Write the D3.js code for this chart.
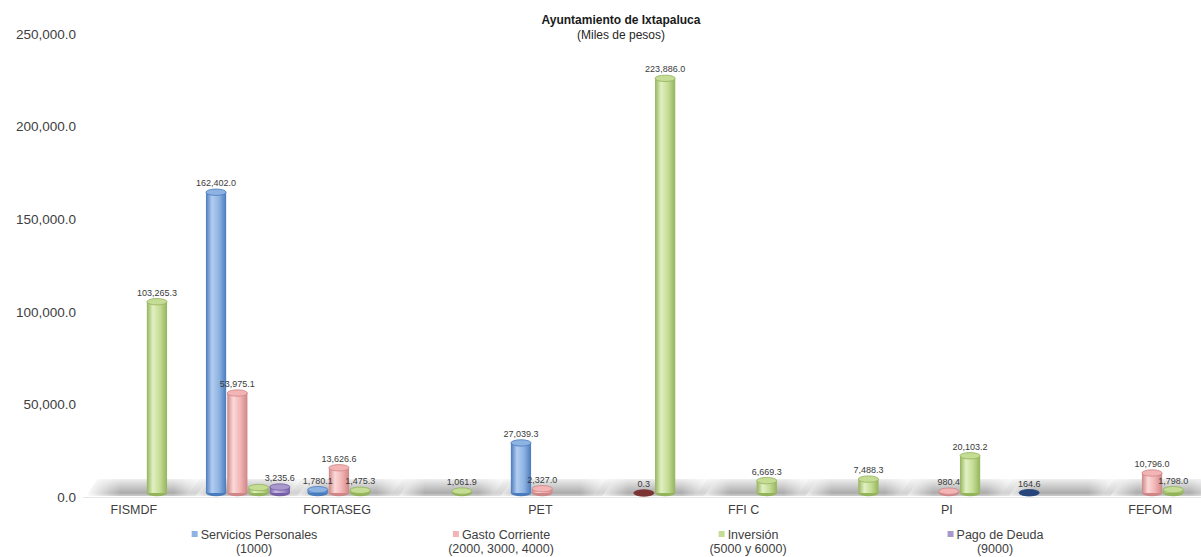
<!DOCTYPE html>
<html>
<head>
<meta charset="utf-8">
<script src="https://cdn.jsdelivr.net/npm/d3@7"></script>
<style>
  body { margin: 0; background: #fff; }
  svg { display: block; font-family: "Liberation Sans", Arial, sans-serif; }
</style>
</head>
<body>
<script>
// categorias (solo algunas llevan etiqueta en el eje)
var categories = ["c1", "c2", "c3", "c4", "c5", "c6", "c7", "c8", "c9", "c10", "c11"];
var tickLabels = ["FISMDF", "", "FORTASEG", "", "PET", "", "FFI C", "", "PI", "", "FEFOM"];

var seriesNames = ["Servicios Personales", "Gasto Corriente", "Inversión", "Pago de Deuda"];
var seriesSub = ["(1000)", "(2000, 3000, 4000)", "(5000 y 6000)", "(9000)"];

var servicios = [null, 162402.0, 1780.1, null, 27039.3, null, null, null, null, 164.6, null];
var gasto     = [null, 53975.1, 13626.6, null, 2327.0, 0.3, null, null, 980.4, null, 10796.0];
var inversion = [103265.3, 2950.0, 1475.3, 1061.9, null, 223886.0, 6669.3, 7488.3, 20103.2, null, 1798.0];
var pagoDeuda = [null, 3235.6, null, null, null, null, null, null, null, null, null];
// etiquetas que no se ven en el original (tapadas)
var hiddenLabels = [[1, 2]];

var yTicks = [0, 50000, 100000, 150000, 200000, 250000];

var W = 1201, H = 557;
var svg = d3.select("body").append("svg").attr("width", W).attr("height", H);
var defs = svg.append("defs");

var colors = [
  {dark: "#4a7bbd", light: "#b3cdf0", mid: "#8db3e2", deep: "#27457a"},
  {dark: "#cf8686", light: "#fbd9d9", mid: "#f2b4b4", deep: "#7a3434"},
  {dark: "#94b45c", light: "#e2f0c2", mid: "#c4dc94", deep: "#5a7030"},
  {dark: "#7560a6", light: "#cbbde6", mid: "#a898cc", deep: "#4a3a78"}
];

colors.forEach(function(c, i) {
  var g = defs.append("linearGradient").attr("id", "cyl" + i)
    .attr("x1", "0").attr("x2", "1").attr("y1", "0").attr("y2", "0");
  g.append("stop").attr("offset", "0").attr("stop-color", c.dark);
  g.append("stop").attr("offset", "0.3").attr("stop-color", c.light);
  g.append("stop").attr("offset", "0.65").attr("stop-color", c.mid);
  g.append("stop").attr("offset", "1").attr("stop-color", c.dark);
});

// gradiente del piso
var fg = defs.append("linearGradient").attr("id", "floorH")
  .attr("x1", "0").attr("x2", "1").attr("y1", "0").attr("y2", "0");
fg.append("stop").attr("offset", "0").attr("stop-color", "#808080").attr("stop-opacity", 0);
fg.append("stop").attr("offset", "0.28").attr("stop-color", "#808080").attr("stop-opacity", 0.65);
fg.append("stop").attr("offset", "0.72").attr("stop-color", "#808080").attr("stop-opacity", 0.65);
fg.append("stop").attr("offset", "1").attr("stop-color", "#808080").attr("stop-opacity", 0);
var fv = defs.append("linearGradient").attr("id", "floorV")
  .attr("x1", "0").attr("x2", "0").attr("y1", "0").attr("y2", "1");
fv.append("stop").attr("offset", "0").attr("stop-color", "#fff").attr("stop-opacity", 0.15);
fv.append("stop").attr("offset", "0.75").attr("stop-color", "#fff").attr("stop-opacity", 1);
fv.append("stop").attr("offset", "1").attr("stop-color", "#fff").attr("stop-opacity", 0.35);
defs.append("mask").attr("id", "floorMask").attr("maskUnits", "userSpaceOnUse")
  .attr("x", 0).attr("y", 476).attr("width", W).attr("height", 24)
  .append("rect").attr("x", 0).attr("y", 478).attr("width", W).attr("height", 20)
  .attr("fill", "url(#floorV)");

var x0 = d3.scaleBand().domain(categories).range([83, 1201]);
var x1 = d3.scaleBand().domain(seriesNames).range([-29.5, 54.5]).paddingInner(0.05);
var y = d3.scaleLinear().domain([0, 250000]).range([493, 30]);

var values = [servicios, gasto, inversion, pagoDeuda];

// titulo
svg.append("text").attr("x", 621).attr("y", 24).attr("text-anchor", "middle")
  .attr("font-size", 12).attr("font-weight", "bold").attr("fill", "#1a1a1a")
  .text("Ayuntamiento de Ixtapaluca");
svg.append("text").attr("x", 621).attr("y", 39).attr("text-anchor", "middle")
  .attr("font-size", 12).attr("fill", "#262626")
  .text("(Miles de pesos)");

// eje Y
var yAxis = svg.append("g").attr("transform", "translate(78,4)")
  .call(d3.axisLeft(y).tickValues(yTicks).tickSize(0).tickPadding(2)
    .tickFormat(d3.format(",.1f")));
yAxis.select(".domain").remove();
yAxis.selectAll("text").attr("font-size", 13.5).attr("fill", "#404040")
  .attr("font-family", "Liberation Sans, Arial, sans-serif");

// piso
svg.append("line").attr("x1", 83).attr("x2", W).attr("y1", 497.5).attr("y2", 497.5)
  .attr("stroke", "#e6e6e6").attr("stroke-width", 1);
var floor = svg.append("g").attr("mask", "url(#floorMask)");
floor.selectAll("polygon").data(categories).enter().append("polygon")
  .attr("points", function(d) {
    var c = x0(d) + x0.bandwidth() / 2;
    return [[c - 36, 479], [c + 74, 479], [c + 62, 496], [c - 48, 496]].join(" ");
  })
  .attr("fill", "url(#floorH)");

// barras cilindricas
var bars = [];
categories.forEach(function(cat, i) {
  seriesNames.forEach(function(s, k) {
    var v = values[k][i];
    if (v == null) return;
    bars.push({cat: cat, i: i, k: k, series: s, value: v});
  });
});

var rx = x1.bandwidth() / 2, ry = 3.2;
var bar = svg.selectAll(".bar").data(bars).enter().append("g").attr("class", "bar");

bar.each(function(d) {
  var g = d3.select(this);
  var cx = x0(d.cat) + x0.bandwidth() / 2 + x1(d.series) + rx;
  var yb = y(0), yt = y(d.value);
  var c = colors[d.k];
  g.append("ellipse").attr("cx", cx).attr("cy", yb).attr("rx", rx).attr("ry", ry)
    .attr("fill", c.dark);
  g.append("rect").attr("x", cx - rx).attr("y", yt).attr("width", rx * 2)
    .attr("height", Math.max(0, yb - yt)).attr("fill", "url(#cyl" + d.k + ")");
  // casi cero: se ve de canto, mas oscuro
  var tiny = (yb - yt) < 0.5;
  g.append("ellipse").attr("cx", cx).attr("cy", yt).attr("rx", rx).attr("ry", ry)
    .attr("fill", tiny ? c.deep : c.mid)
    .attr("stroke", tiny ? c.deep : c.dark).attr("stroke-width", 0.8);
  d.cx = cx; d.yt = yt;
});

// etiquetas de datos
var fmt = d3.format(",.1f");
svg.selectAll(".lbl").data(bars.filter(function(d) {
    return !hiddenLabels.some(function(h) { return h[0] == d.i && h[1] == d.k; });
  })).enter().append("text")
  .attr("class", "lbl")
  .attr("x", function(d) { return d.cx; })
  .attr("y", function(d) { return d.yt - 6; })
  .attr("text-anchor", "middle")
  .attr("font-size", 9).attr("fill", "#3a3a3a")
  .text(function(d) { return fmt(d.value); });

// eje X
var xAxis = svg.append("g").attr("transform", "translate(0,502)")
  .call(d3.axisBottom(x0).tickSize(0).tickPadding(3)
    .tickFormat(function(d, i) { return tickLabels[i]; }));
xAxis.select(".domain").remove();
xAxis.selectAll("text").attr("font-size", 12.5).attr("fill", "#404040")
  .attr("font-family", "Liberation Sans, Arial, sans-serif");

// leyenda
var legend = svg.selectAll(".leg").data(seriesNames).enter().append("g")
  .attr("class", "leg")
  .attr("transform", function(d, i) { return "translate(" + (254 + i * 247) + ",0)"; });
legend.append("text").attr("x", 5).attr("y", 539).attr("text-anchor", "middle")
  .attr("font-size", 12.5).attr("fill", "#404040").text(function(d) { return d; })
  .each(function(d, i) {
    var w = this.getComputedTextLength();
    d3.select(this.parentNode).append("rect")
      .attr("x", 5 - w / 2 - 9).attr("y", 531).attr("width", 6).attr("height", 6)
      .attr("fill", colors[i].mid);
  });
legend.append("text").attr("x", 0).attr("y", 553).attr("text-anchor", "middle")
  .attr("font-size", 12.5).attr("fill", "#404040").text(function(d, i) { return seriesSub[i]; });
</script>
</body>
</html>
